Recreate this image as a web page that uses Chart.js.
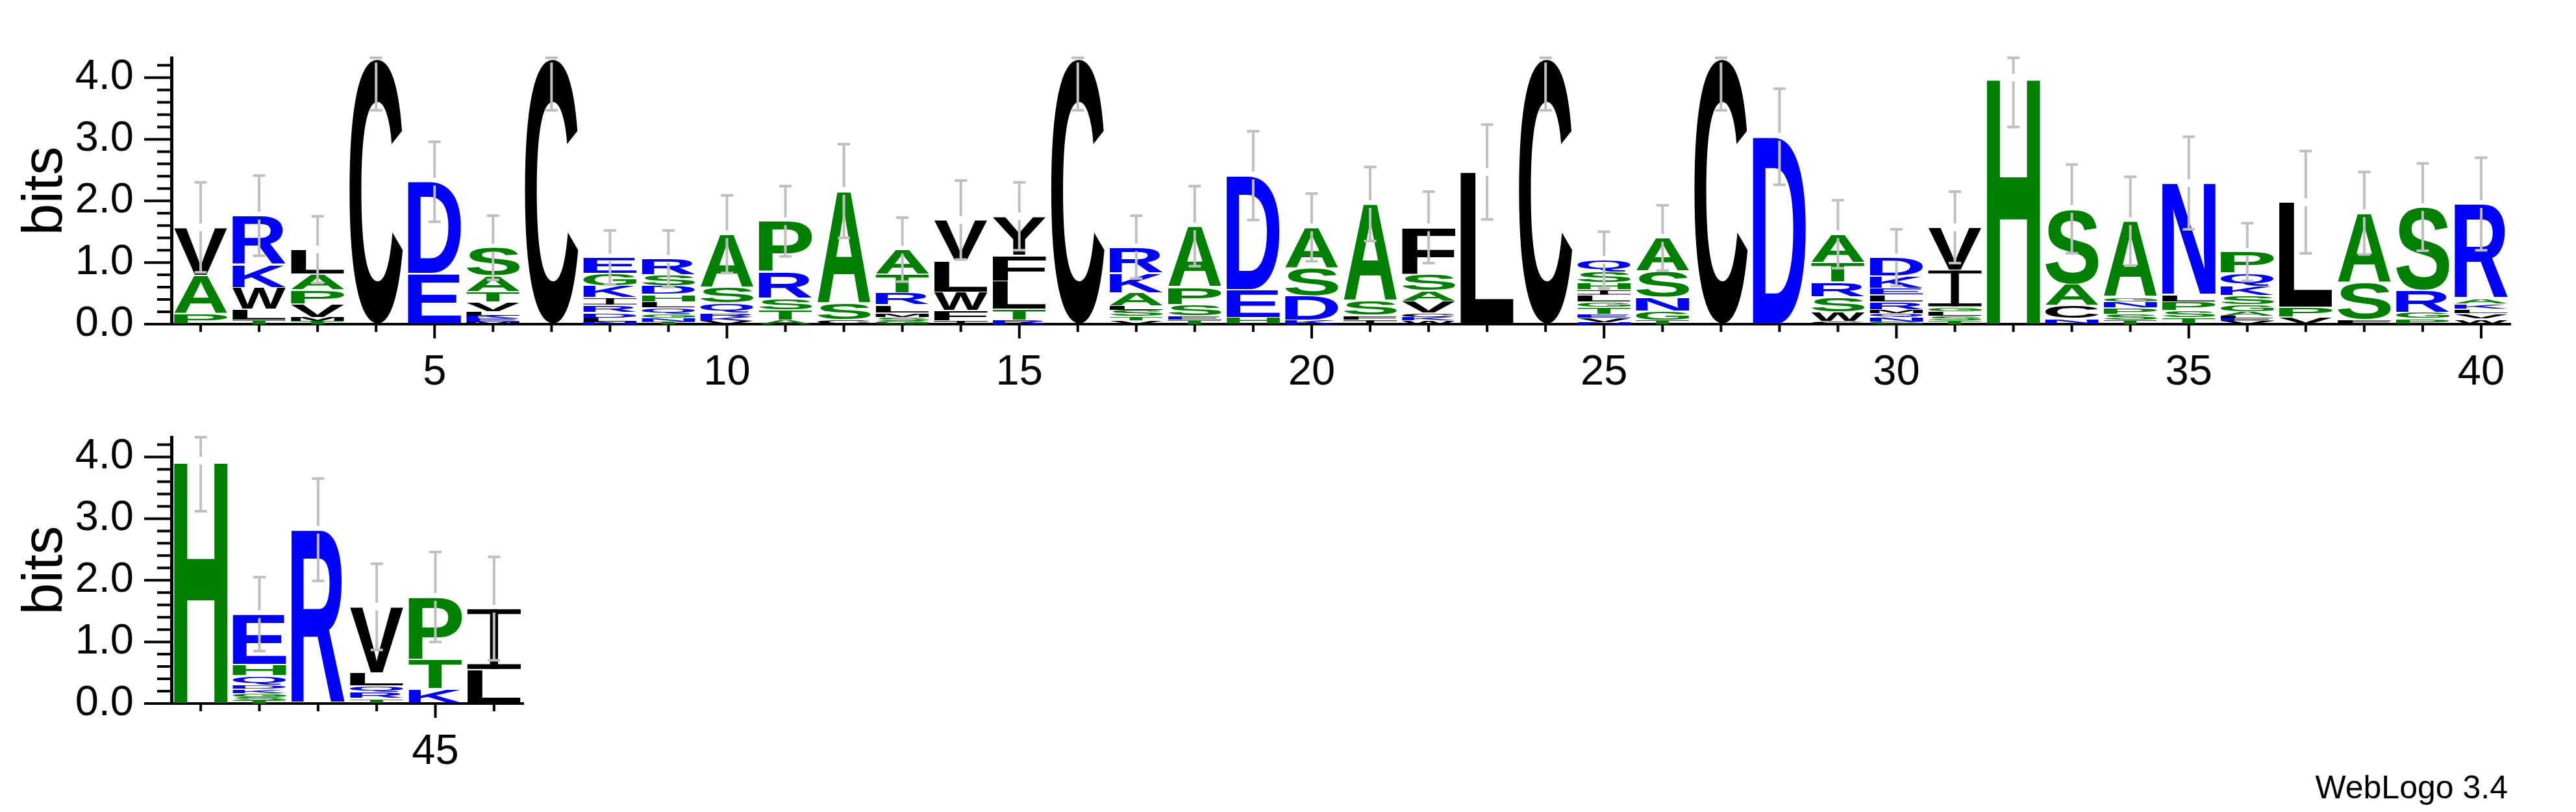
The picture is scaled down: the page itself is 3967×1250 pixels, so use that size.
<!DOCTYPE html>
<html>
<head>
<meta charset="utf-8">
<title>Sequence logo</title>
<script src="https://cdn.jsdelivr.net/npm/chart.js"></script>
<style>
  html, body { margin: 0; padding: 0; background: #fff; }
  body { position: relative; width: 3967px; height: 1250px; overflow: hidden; }
  canvas { position: absolute; left: 0; }
  #credit {
    position: absolute; right: 105px; top: 1187px;
    font: 50px/50px "Liberation Sans", Arial, sans-serif; color: #000;
  }
</style>
</head>
<body>
<canvas id="logoTop" width="3967" height="640" style="top:0"></canvas>
<canvas id="logoBottom" width="3967" height="640" style="top:584px"></canvas>
<div id="credit">WebLogo 3.4</div>
<script>
// sequence positions, split over two rows like the WebLogo output
const topPositions = [1, 2, 3, 4, 5, 6, 7, 8, 9, 10, 11, 12, 13, 14, 15, 16, 17, 18, 19, 20,
  21, 22, 23, 24, 25, 26, 27, 28, 29, 30, 31, 32, 33, 34, 35, 36, 37, 38, 39, 40];
const bottomPositions = [41, 42, 43, 44, 45, 46];

// letters of each column, bottom to top
const stackLetters = [
  'PAV', 'TLWKR', 'TMVPAL', 'C', 'ED', 'MEKLVTAS', 'C', 'NLDRIKGE', 'TNGQLHDSR', 'VKRQSA',
  'ATSRP', 'CSA', 'GSMLRTA', 'IFWLV', 'RTLFY', 'C', 'VTSLAKR', 'TESPA', 'HED', 'KDSA',
  'IFSA', 'WKCVASF', 'L', 'C', 'NVETGLIHSQ', 'TGNSA', 'C', 'D', 'CWSRTA', 'GNQMRLEKD',
  'TSLGIV', 'H', 'NCAS', 'TSPNGA', 'TSPLN', 'VELAGSKQP', 'VPL', 'FSA', 'PGRS', 'WVLKAR',
  'H', 'TSGKDQHE', 'R', 'TRQLV', 'KTP', 'LI'
];

// height of each letter in bits, same order
const stackBits = [
  [0.17, 0.62, 0.78],
  [0.06, 0.18, 0.35, 0.37, 0.80],
  [0.05, 0.06, 0.22, 0.23, 0.25, 0.40],
  [4.31],
  [0.82, 1.49],
  [0.04, 0.05, 0.05, 0.06, 0.16, 0.17, 0.25, 0.46],
  [4.31],
  [0.04, 0.06, 0.09, 0.12, 0.12, 0.19, 0.20, 0.26],
  [0.04, 0.05, 0.07, 0.10, 0.10, 0.12, 0.14, 0.18, 0.26],
  [0.05, 0.06, 0.07, 0.16, 0.26, 0.86],
  [0.06, 0.17, 0.19, 0.43, 0.82],
  [0.07, 0.27, 1.82],
  [0.05, 0.06, 0.07, 0.13, 0.20, 0.30, 0.40],
  [0.05, 0.17, 0.30, 0.50, 0.67],
  [0.06, 0.18, 0.46, 0.42, 0.63],
  [4.31],
  [0.05, 0.07, 0.11, 0.06, 0.22, 0.32, 0.42],
  [0.06, 0.08, 0.18, 0.28, 0.99],
  [0.11, 0.45, 1.85],
  [0.06, 0.40, 0.45, 0.66],
  [0.06, 0.08, 0.24, 1.57],
  [0.05, 0.07, 0.06, 0.19, 0.17, 0.27, 0.76],
  [2.47],
  [4.31],
  [0.03, 0.06, 0.07, 0.11, 0.09, 0.11, 0.09, 0.11, 0.18, 0.19],
  [0.06, 0.15, 0.23, 0.42, 0.54],
  [4.31],
  [3.04],
  [0.04, 0.16, 0.24, 0.24, 0.32, 0.46],
  [0.04, 0.06, 0.08, 0.05, 0.13, 0.11, 0.11, 0.20, 0.30],
  [0.05, 0.09, 0.06, 0.08, 0.60, 0.69],
  [4.00],
  [0.09, 0.21, 0.35, 1.22],
  [0.06, 0.10, 0.10, 0.10, 0.08, 1.23],
  [0.10, 0.12, 0.14, 0.12, 1.81],
  [0.05, 0.05, 0.04, 0.06, 0.11, 0.15, 0.15, 0.22, 0.34],
  [0.12, 0.15, 1.71],
  [0.08, 0.60, 1.12],
  [0.09, 0.10, 0.36, 1.35],
  [0.08, 0.09, 0.07, 0.09, 0.09, 1.53],
  [3.94],
  [0.05, 0.05, 0.06, 0.07, 0.07, 0.15, 0.18, 0.82],
  [2.82],
  [0.08, 0.10, 0.10, 0.22, 1.07],
  [0.24, 0.48, 1.01],
  [0.55, 0.99]
];

// half height of the grey error bar at each column (bits)
const errorBits = [
  0.73, 0.65, 0.54, 0.84, 0.65, 0.52, 0.84, 0.44, 0.46, 0.63,
  0.57, 0.76, 0.52, 0.64, 0.55, 0.84, 0.51, 0.65, 0.72, 0.55,
  0.60, 0.58, 0.77, 0.84, 0.46, 0.53, 0.84, 0.78, 0.55, 0.46,
  0.58, 0.80, 0.72, 0.72, 0.75, 0.47, 0.83, 0.67, 0.71, 0.75,
  0.82, 0.60, 0.83, 0.70, 0.73, 0.84
];

const yTicksBits = [0, 1, 2, 3, 4];
const maxBits = 4.3219;   // log2(20)

const FONT = '"Liberation Sans", Arial, Helvetica, sans-serif';
const GLYPH_FONT = 'bold 200px ' + FONT;
Chart.defaults.font.family = FONT;
Chart.defaults.color = '#000';

// hydrophobicity colour scheme
function letterColor(ch) {
  if ('RKDENQ'.includes(ch)) return '#0000ff';
  if ('SGHTAP'.includes(ch)) return '#008000';
  return '#000000';
}

// draw one letter stretched to fill its box
function drawGlyph(ctx, ch, left, top, w, h) {
  if (h < 0.6 || w <= 0) return;
  ctx.save();
  ctx.fillStyle = letterColor(ch);
  if (ch === 'I') {
    const sh = Math.max(1, h * 0.08), sw = w * 0.15;
    ctx.fillRect(left, top, w, sh);
    ctx.fillRect(left, top + h - sh, w, sh);
    ctx.fillRect(left + (w - sw) / 2, top, sw, h);
  } else {
    ctx.font = GLYPH_FONT;
    ctx.textAlign = 'left';
    ctx.textBaseline = 'alphabetic';
    const m = ctx.measureText(ch);
    const gw = m.actualBoundingBoxLeft + m.actualBoundingBoxRight;
    const gh = m.actualBoundingBoxAscent + m.actualBoundingBoxDescent;
    ctx.translate(left, top);
    ctx.scale(w / gw, h / gh);
    ctx.fillText(ch, m.actualBoundingBoxLeft, m.actualBoundingBoxAscent);
  }
  ctx.restore();
}

function makeLogo(canvasId, positions, rightPad) {
  const first = positions[0] - 1;
  const layers = Math.max(...positions.map(p => stackBits[p - 1].length));
  const datasets = [];
  for (let k = 0; k < layers; k++) {
    datasets.push({
      data: positions.map(p => stackBits[p - 1][k] || 0),
      backgroundColor: 'rgba(0,0,0,0)',
      borderWidth: 0,
      barPercentage: 0.91,
      categoryPercentage: 1.0
    });
  }

  const logoPlugin = {
    id: 'logo',
    afterDatasetsDraw(chart) {
      const ctx = chart.ctx;
      chart.data.datasets.forEach((ds, k) => {
        const meta = chart.getDatasetMeta(k);
        meta.data.forEach((bar, i) => {
          const v = ds.data[i];
          if (!v) return;
          const letters = stackLetters[first + i];
          const {x, y, base, width} = bar.getProps(['x', 'y', 'base', 'width'], true);
          let top = Math.min(y, base), h = Math.abs(base - y);
          if (h > 6) { top += 1; h -= 2; }
          drawGlyph(ctx, letters[k], x - width / 2, top, width, h);
        });
      });
    },
    afterDraw(chart) {
      const ctx = chart.ctx;
      const xs = chart.scales.x, ys = chart.scales.y;
      const area = chart.chartArea;

      // error bars
      ctx.save();
      ctx.strokeStyle = '#bfbfbf';
      ctx.lineWidth = 4;
      positions.forEach((p, i) => {
        const total = stackBits[p - 1].reduce((a, b) => a + b, 0);
        const err = errorBits[p - 1];
        const px = xs.getPixelForValue(i);
        const yc = ys.getPixelForValue(total);
        const yHi = ys.getPixelForValue(Math.min(total + err, maxBits));
        const yLo = ys.getPixelForValue(Math.max(total - err, 0));
        ctx.beginPath();
        if (yc - 6 > yHi) { ctx.moveTo(px, yHi); ctx.lineTo(px, yc - 6); }
        ctx.moveTo(px, yc + 6); ctx.lineTo(px, yLo);
        ctx.moveTo(px - 9.5, yHi); ctx.lineTo(px + 9.5, yHi);
        ctx.moveTo(px - 9.5, yLo); ctx.lineTo(px + 9.5, yLo);
        ctx.stroke();
      });

      // tick marks, long ones on labelled ticks
      ctx.strokeStyle = '#000';
      ctx.lineWidth = 4;
      ctx.beginPath();
      ys.ticks.forEach((t, i) => {
        const py = ys.getPixelForTick(i);
        const major = yTicksBits.includes(Math.round(t.value * 10) / 10);
        ctx.moveTo(area.left - (major ? 42 : 22), py);
        ctx.lineTo(area.left, py);
      });
      xs.ticks.forEach((t, i) => {
        const px = xs.getPixelForTick(i);
        const major = positions[i] % 5 === 0;
        ctx.moveTo(px, area.bottom);
        ctx.lineTo(px, area.bottom + (major ? 22 : 12));
      });
      ctx.stroke();
      ctx.restore();
    }
  };

  return new Chart(document.getElementById(canvasId), {
    type: 'bar',
    data: { labels: positions.map(String), datasets },
    options: {
      responsive: false,
      animation: false,
      devicePixelRatio: 1,
      layout: { padding: { top: 50, right: rightPad, left: 0, bottom: 0 } },
      plugins: { legend: { display: false }, tooltip: { enabled: false } },
      scales: {
        x: {
          stacked: true,
          offset: true,
          grid: { display: false },
          border: { display: true, color: '#000', width: 4 },
          ticks: {
            autoSkip: false,
            maxRotation: 0,
            padding: 28,
            color: '#000',
            font: { size: 65 },
            callback(value) {
              const p = Number(this.getLabelForValue(value));
              return p % 5 === 0 ? String(p) : '';
            }
          },
          afterFit(scale) { scale.height = 141; }
        },
        y: {
          stacked: true,
          min: 0,
          max: maxBits,
          grid: { display: false },
          border: { display: true, color: '#000', width: 5 },
          ticks: {
            stepSize: 0.2,
            includeBounds: false,
            autoSkip: false,
            padding: 50,
            color: '#000',
            font: { size: 65 },
            callback(value) {
              const r = Math.round(value * 10) / 10;
              return yTicksBits.includes(r) ? r.toFixed(1) : '';
            }
          },
          title: {
            display: true,
            text: 'bits',
            color: '#000',
            font: { size: 88 },
            padding: { top: 18, bottom: 0 }
          },
          afterFit(scale) { scale.width = 264; }
        }
      }
    },
    plugins: [logoPlugin]
  });
}

makeLogo('logoTop', topPositions, 3967 - 3866);
makeLogo('logoBottom', bottomPositions, 3967 - 806);
</script>
</body>
</html>
